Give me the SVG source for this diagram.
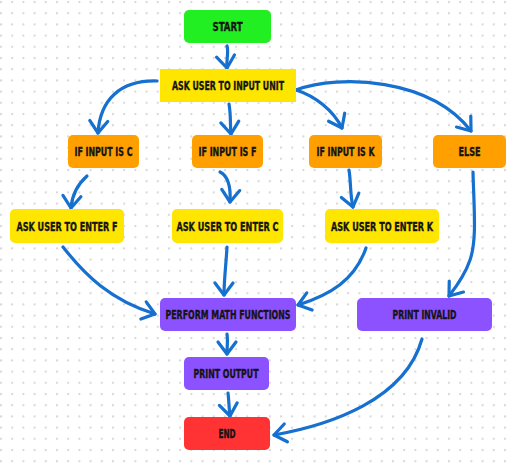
<svg xmlns="http://www.w3.org/2000/svg" width="513" height="467" viewBox="0 0 513 467">
<defs>
<pattern id="dots" x="0" y="1" width="11.2" height="11.2" patternUnits="userSpaceOnUse">
<circle cx="1" cy="1" r="1.1" fill="#d6d6d6"/>
</pattern>
<marker id="arr" markerUnits="userSpaceOnUse" viewBox="-16 -16 32 32" markerWidth="32" markerHeight="32" refX="0" refY="0" orient="auto" overflow="visible">
<path d="M-12,-9 L0,0 L-12,9" fill="none" stroke="#1570cf" stroke-width="3.2" stroke-linecap="round" stroke-linejoin="round"/>
</marker>
</defs>
<style>
.lbl{font-family:"DejaVu Sans Condensed","DejaVu Sans",sans-serif;font-weight:bold;font-size:11.5px;fill:#141414;stroke:#141414;stroke-width:0.35;text-anchor:middle}
.edge{fill:none;stroke:#1570cf;stroke-width:3.2;stroke-linecap:round;stroke-linejoin:round;marker-end:url(#arr)}
.green{fill:#22ef22}
.yellow{fill:#ffe600}
.orange{fill:#ffa000}
.purple{fill:#8c52ff}
.red{fill:#ff3333}
</style>
<rect width="513" height="467" fill="#ffffff"/>
<rect width="513" height="467" fill="url(#dots)"/>

<g id="connectors">
<path class="edge" d="M227,46 C229,53 226,60 227,68"/>
<path class="edge" d="M157,81 C120,80 100,100 98,133"/>
<path class="edge" d="M229,104 C231,115 230,124 231,134"/>
<path class="edge" d="M296,90 C315,96 333,110 342,128"/>
<path class="edge" d="M296,90 C340,74 430,78 471,131"/>
<path class="edge" d="M87,176 C78,184 72,195 71,208"/>
<path class="edge" d="M220,172 C228,176 231,186 230,202"/>
<path class="edge" d="M349,170 C351,182 350,195 353,207"/>
<path class="edge" d="M473,172 C474,210 477,240 470,260 C465,275 456,287 449,296"/>
<path class="edge" d="M63,247 C85,275 110,300 155,314"/>
<path class="edge" d="M227,247 C226,265 224,280 224,295"/>
<path class="edge" d="M366,248 C355,280 330,295 298,305"/>
<path class="edge" d="M227,334 C228,341 227,347 227,354"/>
<path class="edge" d="M228,393 C229,401 229,409 230,416"/>
<path class="edge" d="M422,339 C405,400 330,425 274,435"/>
</g>

<g id="start"><rect class="green" x="184" y="10" width="87" height="33" rx="5"/><text class="lbl" x="227.5" y="30.5" textLength="30" lengthAdjust="spacingAndGlyphs">START</text></g>
<g id="ask-unit"><rect class="yellow" x="160" y="69" width="136" height="33"/><text class="lbl" x="228" y="90" textLength="112" lengthAdjust="spacingAndGlyphs">ASK USER TO INPUT UNIT</text></g>
<g id="if-c"><rect class="orange" x="68" y="135" width="71" height="33" rx="5"/><text class="lbl" x="103.5" y="156" textLength="58" lengthAdjust="spacingAndGlyphs">IF INPUT IS C</text></g>
<g id="if-f"><rect class="orange" x="192" y="135" width="71" height="33" rx="5"/><text class="lbl" x="227.5" y="156" textLength="58" lengthAdjust="spacingAndGlyphs">IF INPUT IS F</text></g>
<g id="if-k"><rect class="orange" x="309" y="135" width="73" height="33" rx="5"/><text class="lbl" x="345.5" y="156" textLength="58" lengthAdjust="spacingAndGlyphs">IF INPUT IS K</text></g>
<g id="else"><rect class="orange" x="433" y="135" width="73" height="33" rx="5"/><text class="lbl" x="469.5" y="156" textLength="22" lengthAdjust="spacingAndGlyphs">ELSE</text></g>
<g id="enter-f"><rect class="yellow" x="10" y="209" width="114" height="34" rx="5"/><text class="lbl" x="67" y="231" textLength="101" lengthAdjust="spacingAndGlyphs">ASK USER TO ENTER F</text></g>
<g id="enter-c"><rect class="yellow" x="172" y="209" width="111" height="34" rx="5"/><text class="lbl" x="227.5" y="231" textLength="102" lengthAdjust="spacingAndGlyphs">ASK USER TO ENTER C</text></g>
<g id="enter-k"><rect class="yellow" x="325" y="209" width="114" height="34" rx="5"/><text class="lbl" x="382" y="231" textLength="102" lengthAdjust="spacingAndGlyphs">ASK USER TO ENTER K</text></g>
<g id="perform"><rect class="purple" x="160" y="298" width="136" height="33" rx="5"/><text class="lbl" x="228" y="319" textLength="125" lengthAdjust="spacingAndGlyphs">PERFORM MATH FUNCTIONS</text></g>
<g id="print-invalid"><rect class="purple" x="357" y="298" width="135" height="33" rx="5"/><text class="lbl" x="424.5" y="319" textLength="64" lengthAdjust="spacingAndGlyphs">PRINT INVALID</text></g>
<g id="print-output"><rect class="purple" x="184" y="357" width="85" height="33" rx="5"/><text class="lbl" x="226" y="378" textLength="65" lengthAdjust="spacingAndGlyphs">PRINT OUTPUT</text></g>
<g id="end"><rect class="red" x="184" y="417" width="86" height="33" rx="5"/><text class="lbl" x="227" y="438" textLength="17" lengthAdjust="spacingAndGlyphs">END</text></g>
</svg>
